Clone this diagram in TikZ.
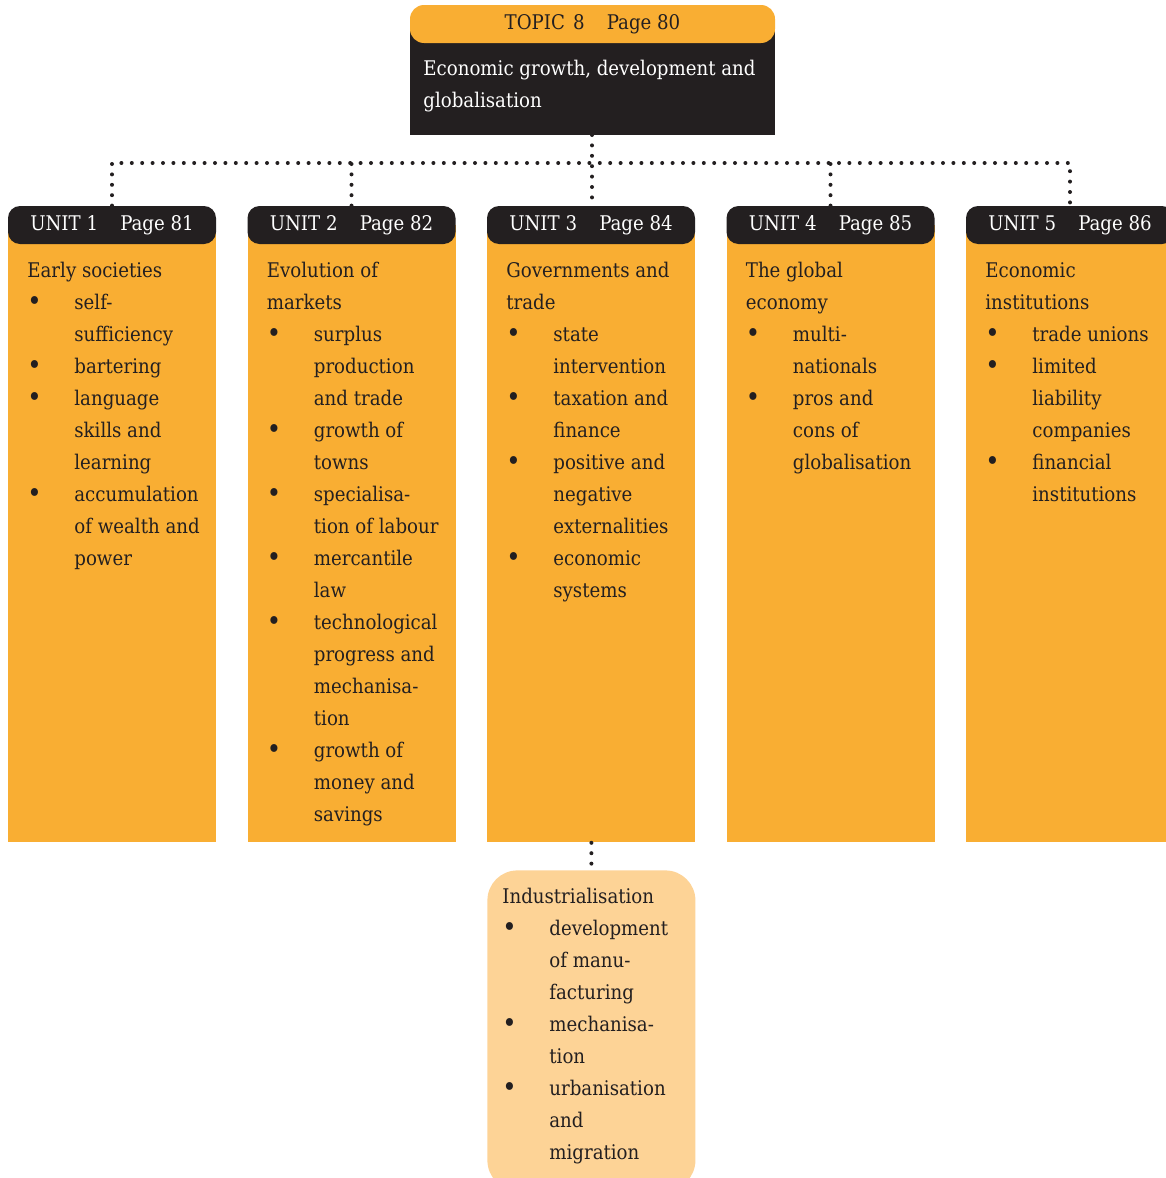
\documentclass[tikz,border=0pt]{standalone}
\usepackage{fontspec}
\setmainfont{DejaVu Serif Condensed}
\usepackage{tikz}
\definecolor{unitorange}{HTML}{F9AE33}
\definecolor{lightorange}{HTML}{FDD396}
\definecolor{headblack}{HTML}{231F20}
\tikzstyle{unithead}=[fill=headblack, text=white, rounded corners=6pt, minimum width=104pt, minimum height=19pt, inner sep=0pt]
\tikzstyle{unitbody}=[fill=unitorange, minimum width=104pt, minimum height=308.5pt, inner sep=0pt, anchor=north west]
\tikzstyle{bodytext}=[anchor=north west, align=left, inner sep=0pt, text=headblack]
\tikzstyle{dots}=[line width=2pt, line cap=round, dash pattern=on 0pt off 5.2pt, headblack]
\newcommand{\bitem}{\makebox[23.5pt][l]{\raisebox{-0.6pt}{\fontsize{13.5}{16}\selectfont\textbullet}}}
\newcommand{\bcont}{\hspace*{23.5pt}}
\newcommand{\unitlabel}[2]{UNIT #1\hspace{1.1em}Page #2}

\begin{document}
\begin{tikzpicture}[x=0.5pt, y=-0.5pt, font=\fontsize{10.1}{16}\selectfont]
        \clip (0,0) rectangle (1166,1178);
        % topic
        \fill[headblack] (410,27) rectangle (775,135);
        \node[fill=unitorange, rounded corners=7pt, minimum width=182.5pt, minimum height=19pt, inner sep=0pt, text=headblack] (topichead) at (592.5,24) {TOPIC\hspace{0.4em}8\hspace{1.1em}Page 80};
        \node[bodytext, text=white] (topictext) at (423,52.6) {\strut Economic growth, development and\\globalisation};
        \coordinate (topic) at (592,135);
        % units
        \node[unitbody] (b1) at (8,225) {};
        \node[unitbody] (b2) at (247.5,225) {};
        \node[unitbody] (b3) at (487,225) {};
        \node[unitbody] (b4) at (726.5,225) {};
        \node[unitbody] (b5) at (966,225) {};
        \node[unithead] (h1) at (112,225) {\unitlabel{1}{81}};
        \node[unithead] (h2) at (351.5,225) {\unitlabel{2}{82}};
        \node[unithead] (h3) at (591,225) {\unitlabel{3}{84}};
        \node[unithead] (h4) at (830.5,225) {\unitlabel{4}{85}};
        \node[unithead] (h5) at (1070,225) {\unitlabel{5}{86}};
        \node[bodytext] (t1) at (27,254.6) {\strut Early societies\\
            \bitem self-\\ \bcont sufficiency\\
            \bitem bartering\\
            \bitem language\\ \bcont skills and\\ \bcont learning\\
            \bitem accumulation\\ \bcont of wealth and\\ \bcont power};
        \node[bodytext] (t2) at (266.5,254.6) {\strut Evolution of\\ markets\\
            \bitem surplus\\ \bcont production\\ \bcont and trade\\
            \bitem growth of\\ \bcont towns\\
            \bitem specialisa-\\ \bcont tion of labour\\
            \bitem mercantile\\ \bcont law\\
            \bitem technological\\ \bcont progress and\\ \bcont mechanisa-\\ \bcont tion\\
            \bitem growth of\\ \bcont money and\\ \bcont savings};
        \node[bodytext] (t3) at (506,254.6) {\strut Governments and\\ trade\\
            \bitem state\\ \bcont intervention\\
            \bitem taxation and\\ \bcont finance\\
            \bitem positive and\\ \bcont negative\\ \bcont externalities\\
            \bitem economic\\ \bcont systems};
        \node[bodytext] (t4) at (745.5,254.6) {\strut The global\\ economy\\
            \bitem multi-\\ \bcont nationals\\
            \bitem pros and\\ \bcont cons of\\ \bcont globalisation};
        \node[bodytext] (t5) at (985,254.6) {\strut Economic\\ institutions\\
            \bitem trade unions\\
            \bitem limited\\ \bcont liability\\ \bcont companies\\
            \bitem financial\\ \bcont institutions};
        % industrialisation
        \node[fill=lightorange, rounded corners=15pt, minimum width=104pt, minimum height=160pt, inner sep=0pt, anchor=north west] (ind) at (487,870) {};
        \node[bodytext] (tind) at (502,880.6) {\strut Industrialisation\\
            \bitem development\\ \bcont of manu-\\ \bcont facturing\\
            \bitem mechanisa-\\ \bcont tion\\
            \bitem urbanisation\\ \bcont and\\ \bcont migration};
        % connectors
        \coordinate (bus) at (592,163);
        \draw[dots] (topic) -- (h3.north -| topic);
        \draw[dots] (h1.north) |- (bus) -| (h5.north);
        \draw[dots] (h2.north) -- (h2.north |- bus);
        \draw[dots] (h4.north) -- (h4.north |- bus);
        \draw[dots] (b3.south) -- (ind.north);
    \end{tikzpicture}
\end{document}
